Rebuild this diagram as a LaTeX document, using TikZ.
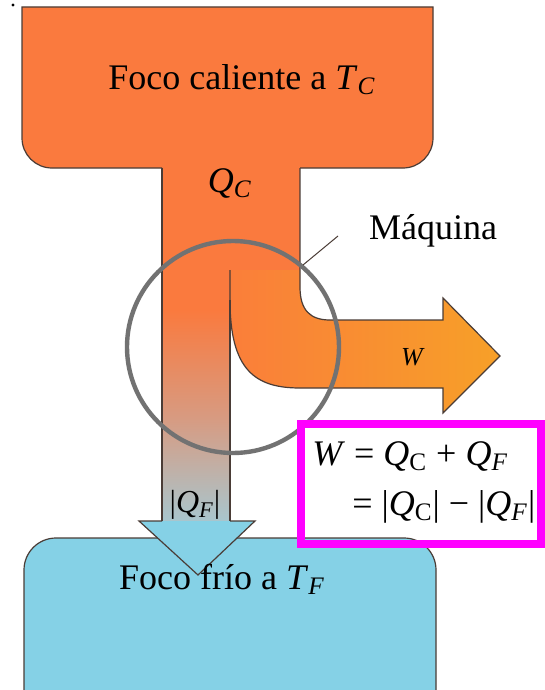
\documentclass[tikz,border=0pt]{standalone}
\usepackage{fontspec}
\setmainfont{Liberation Serif}
\definecolor{hot}{HTML}{FA7A3E}
\definecolor{warmA}{HTML}{FA7E3A}
\definecolor{warmB}{HTML}{F7A028}
\definecolor{cold}{HTML}{85D1E6}
\definecolor{stemmid}{HTML}{D89A80}
\definecolor{stembot}{HTML}{A8C6CE}
\definecolor{outline}{HTML}{4A3C36}
\definecolor{ringgray}{HTML}{727272}
\definecolor{hilite}{HTML}{FF00FF}
\newcommand{\sub}[1]{\textsubscript{#1}}
\begin{document}
\begin{tikzpicture}[x=0.5pt,y=-0.5pt,
  edge/.style={draw=outline, line width=0.6pt},
  txt/.style={inner sep=0pt, font=\fontsize{18}{21}\selectfont},
  eqtxt/.style={inner sep=0pt, font=\fontsize{18}{21}\selectfont, anchor=base west}]
\useasboundingbox (0,0) rectangle (545,690);
\fill[white] (0,0) rectangle (545,690);
\fill[black] (13,5) circle (1.6);
% cold reservoir
\fill[cold] (24,690) -- (24,570) arc[start angle=180,end angle=270,radius=32] -- (404,538) arc[start angle=270,end angle=360,radius=32] -- (436,690) -- cycle;
\draw[edge] (24,690) -- (24,570) arc[start angle=180,end angle=270,radius=32] -- (404,538) arc[start angle=270,end angle=360,radius=32] -- (436,690);
% hot reservoir
\fill[hot] (22,7) -- (433,7) -- (433,138) arc[start angle=0,end angle=90,radius=30] -- (52,168) arc[start angle=90,end angle=180,radius=30] -- cycle;
\fill[hot] (162,166) rectangle (300,312);
\draw[edge] (300,168) -- (403,168) arc[start angle=90,end angle=0,radius=30] -- (433,7) -- (22,7) -- (22,138) arc[start angle=180,end angle=90,radius=30] -- (162,168);
% left stream
\shade[top color=hot, bottom color=stembot, middle color=stemmid] (162,310) rectangle (230,522);
% work stream
\shade[left color=warmA, right color=warmB] (230,270) -- (230,300) .. controls (230,370) and (255,388) .. (300,388) -- (443,388) -- (443,413) -- (500,356) -- (443,298) -- (443,320) -- (330,320) .. controls (310,320) and (300,310) .. (300,287) -- (300,270) -- cycle;
\draw[edge] (230,270) -- (230,300) .. controls (230,370) and (255,388) .. (300,388) -- (443,388) -- (443,413) -- (500,356) -- (443,298) -- (443,320) -- (330,320) .. controls (310,320) and (300,310) .. (300,287) -- (300,168);
\draw[edge] (162,168) -- (162,521);
\draw[edge] (230,300) -- (230,521);
% arrow head into cold reservoir
\fill[cold] (139,521) -- (255,521) -- (198,575) -- cycle;
\draw[edge] (162,521) -- (139,521) -- (198,575) -- (255,521) -- (230,521);
% engine ring
\draw[ringgray, line width=2.2pt] (233,347) circle (106);
% labels
\node[txt] (hotlbl) at (242,80) {Foco caliente a \textit{T}\sub{\textit{C}}};
\node[txt] (qc) at (230,183) {\textit{Q}\sub{\textit{C}}};
\node[txt] (maq) at (433,231) {Máquina};
\coordinate (leadstart) at (338,236);
\coordinate (ringpt) at (303,265);
\draw[outline, line width=0.5pt] (leadstart) -- (ringpt);
\node[inner sep=0pt, font=\fontsize{13}{15}\selectfont] (wlbl) at (413,357) {\textit{W}};
\node[inner sep=0pt, font=\fontsize{16}{18}\selectfont] (qflbl) at (195,505) {|\textit{Q}\sub{\textit{F}}|};
\node[txt] (coldlbl) at (222,579) {Foco frío a \textit{T}\sub{\textit{F}}};
% equation box
\draw[hilite, line width=4pt] (301,424) rectangle (541,544);
\node[eqtxt] (eq1) at (312,465) {\textit{W} = \textit{Q}\sub{C} + \textit{Q}\sub{\textit{F}}};
\node[eqtxt] (eq2) at (352,515) {= |\textit{Q}\sub{C}| − |\textit{Q}\sub{\textit{F}}|};
\end{tikzpicture}
\end{document}
